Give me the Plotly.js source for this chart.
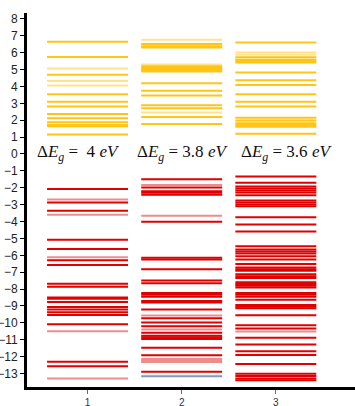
<!DOCTYPE html>
<html>
<head>
<meta charset="utf-8">
<script src="https://cdn.plot.ly/plotly-3.0.1.min.js"></script>
<style>html,body{margin:0;padding:0;background:#fff;}#plot{width:355px;height:406px;}</style>
</head>
<body>
<div id="plot"></div>
<script>
// column positions and labels
var columns = [1, 2, 3];
var tickLabels = ['1', '2', '3'];
var gapLabels = ['4', '3.8', '3.6'];

// conduction-band levels (eV), strong / faint
var cb1 = [6.64, 5.75, 4.70, 3.54, 3.10, 2.81, 2.37, 2.12, 1.88, 1.72, 1.64, 1.15];
var cb1Faint = [5.06, 4.33, 4.05];
var cb2 = [6.52, 6.38, 6.30, 5.20, 5.10, 5.00, 4.92, 4.19, 3.74, 3.46, 2.89, 2.71, 2.19, 1.78];
var cb2Faint = [6.76, 5.30, 4.86, 2.45];
var cb3 = [6.60, 5.73, 5.58, 5.50, 5.42, 4.82, 4.37, 4.09, 3.54, 3.10, 2.81, 2.15, 1.98, 1.82, 1.72, 1.62, 1.20];
var cb3Faint = [6.01, 5.87];

// valence-band levels (eV), strong / faint
var vb1 = [-2.08, -2.87, -3.36, -5.08, -5.62, -6.29, -6.58, -7.69, -7.87, -8.50, -8.58, -8.76, -9.06, -9.21, -9.37, -9.53, -10.08, -12.30, -12.57];
var vb1Faint = [-2.69, -3.60, -6.11, -10.50, -13.29];
var vb2 = [-1.50, -1.98, -2.20, -2.30, -2.42, -4.01, -6.15, -6.25, -6.82, -7.49, -7.65, -8.24, -8.34, -8.46, -8.70, -8.80, -9.21, -9.73, -9.98, -10.20, -10.58, -10.76, -10.86, -10.95, -11.47, -11.92, -12.89];
var vb2Faint = [-1.84, -3.66, -9.57, -10.40, -12.14, -12.24, -12.32];
var vb2Other = [-13.17];
var vb3 = [-1.34, -1.70, -1.92, -2.04, -2.16, -2.28, -2.45, -2.75, -2.87, -2.99, -3.10, -3.74, -4.17, -4.59, -5.46, -5.66, -5.78, -5.89, -6.05, -6.25, -6.52, -6.72, -6.82, -6.92, -7.12, -7.24, -7.35, -7.60, -7.70, -7.80, -7.90, -8.24, -8.34, -8.46, -8.64, -8.94, -9.04, -9.13, -9.55, -10.14, -10.34, -10.89, -11.29, -11.68, -11.90, -12.44, -13.01, -13.15, -13.29, -13.40];
var vb3Faint = [-10.52];

var HW = 0.43;
function levels(center, vals, color) {
  var xs = [], ys = [];
  vals.forEach(function (v) {
    xs.push(center - HW, center + HW, null);
    ys.push(v, v, null);
  });
  return {type: 'scatter', mode: 'lines', x: xs, y: ys,
          line: {color: color, width: 2}, hoverinfo: 'skip', showlegend: false};
}

var Y = '#FFC414', YF = '#FFE38C', R = '#E00000', RF = '#EE8C8C', G = '#8298B4';
var data = [
  levels(columns[0], cb1Faint, YF), levels(columns[0], cb1, Y),
  levels(columns[1], cb2Faint, YF), levels(columns[1], cb2, Y),
  levels(columns[2], cb3Faint, YF), levels(columns[2], cb3, Y),
  levels(columns[0], vb1Faint, RF), levels(columns[0], vb1, R),
  levels(columns[1], vb2Faint, RF), levels(columns[1], vb2, R), levels(columns[1], vb2Other, G),
  levels(columns[2], vb3Faint, RF), levels(columns[2], vb3, R)
];

var annX = [0.90, 2.01, 3.11];
var annotations = gapLabels.map(function (g, i) {
  var eq = (i === 0) ? '=\u00a0\u00a0' : '= ';
  return {xref: 'x', yref: 'y', x: annX[i], y: 0.05, showarrow: false,
          xanchor: 'center', yanchor: 'middle',
          text: '\u0394<i>E</i><sub><i>g</i></sub> ' + eq + g + ' <i>eV</i>',
          font: {family: 'Liberation Serif, DejaVu Serif, serif', size: 17, color: '#111'}};
});

var yt = [];
for (var k = -13; k <= 8; k++) yt.push(k);

var layout = {
  width: 355, height: 406,
  margin: {l: 27, r: 0, t: 13, b: 19},
  paper_bgcolor: '#fff', plot_bgcolor: '#fff',
  showlegend: false,
  xaxis: {range: [0.357, 3.841], tickvals: columns, ticktext: tickLabels,
          ticks: 'outside', ticklen: 4, tickwidth: 1, tickcolor: '#3575b5',
          showline: true, linewidth: 3, linecolor: '#000', showgrid: false, zeroline: false,
          tickfont: {family: 'Liberation Sans, Arial, sans-serif', size: 10, color: '#333'}},
  yaxis: {range: [-13.8, 8.35], tickvals: yt,
          ticks: 'outside', ticklen: 4, tickwidth: 1, tickcolor: '#000',
          showline: true, linewidth: 3, linecolor: '#000', showgrid: false, zeroline: false,
          tickfont: {family: 'Liberation Sans, Arial, sans-serif', size: 12, color: '#222'}},
  annotations: annotations
};

Plotly.newPlot('plot', data, layout, {staticPlot: true, displayModeBar: false});
</script>
</body>
</html>
